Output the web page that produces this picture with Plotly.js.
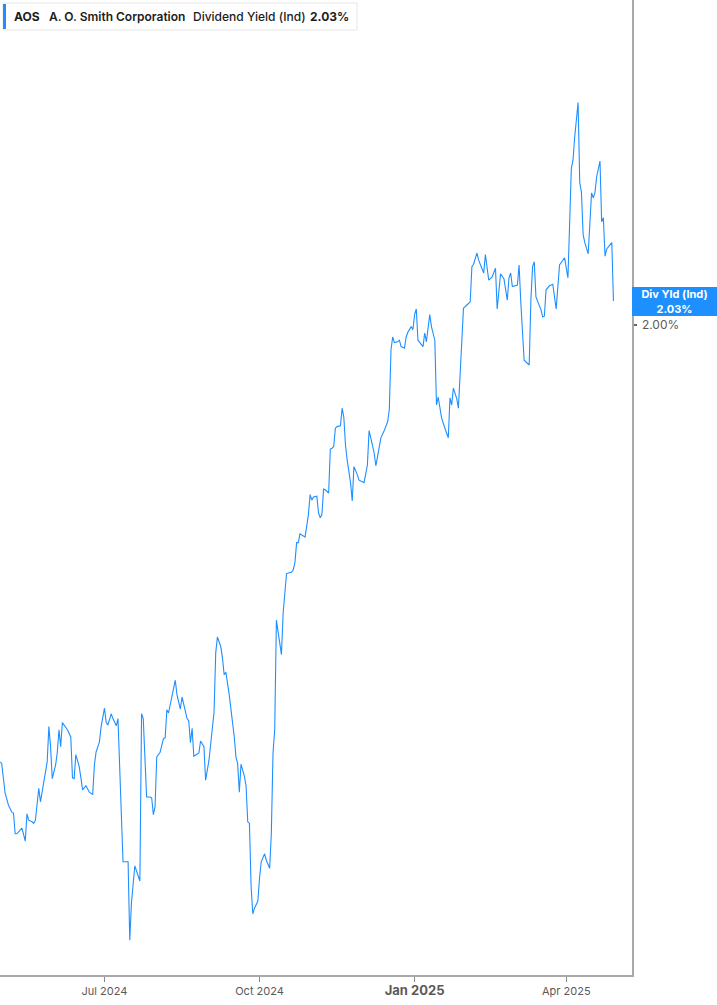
<!DOCTYPE html>
<html>
<head>
<meta charset="utf-8">
<script src="https://cdn.plot.ly/plotly-3.0.1.min.js"></script>
<style>
  html, body { margin: 0; padding: 0; background: #ffffff; }
  #chart { width: 717px; height: 1005px; }
</style>
</head>
<body>
<div id="chart"></div>
<script>
const TICKER = "AOS";
const COMPANY = "A. O. Smith Corporation";
const METRIC = "Dividend Yield (Ind)";
const LAST_VALUE = "2.03%";

const LINE_COLOR = "#1e8fff";

// dates and indicated dividend yield (%)
const dates = [
  "2024-04-30", "2024-05-01", "2024-05-03", "2024-05-05", "2024-05-07", "2024-05-08", "2024-05-09", "2024-05-10",
  "2024-05-13", "2024-05-15", "2024-05-16", "2024-05-17", "2024-05-19", "2024-05-20", "2024-05-21", "2024-05-23",
  "2024-05-24", "2024-05-26", "2024-05-28", "2024-05-29", "2024-05-30", "2024-05-31",
  "2024-06-02", "2024-06-03", "2024-06-04", "2024-06-05", "2024-06-06", "2024-06-09", "2024-06-11", "2024-06-12",
  "2024-06-13", "2024-06-14", "2024-06-16", "2024-06-17", "2024-06-18", "2024-06-20", "2024-06-22", "2024-06-24",
  "2024-06-25", "2024-06-26", "2024-06-28", "2024-06-29",
  "2024-07-01", "2024-07-02", "2024-07-03", "2024-07-05", "2024-07-06", "2024-07-08", "2024-07-09", "2024-07-10",
  "2024-07-12", "2024-07-13", "2024-07-15", "2024-07-16", "2024-07-17", "2024-07-19", "2024-07-21", "2024-07-22",
  "2024-07-23", "2024-07-24", "2024-07-26", "2024-07-28", "2024-07-29", "2024-07-30", "2024-07-31",
  "2024-08-01", "2024-08-03", "2024-08-05", "2024-08-06", "2024-08-07", "2024-08-08", "2024-08-10", "2024-08-12",
  "2024-08-13", "2024-08-15", "2024-08-16", "2024-08-18", "2024-08-19", "2024-08-20", "2024-08-21", "2024-08-22",
  "2024-08-23", "2024-08-26", "2024-08-27", "2024-08-29", "2024-08-30",
  "2024-09-01", "2024-09-03", "2024-09-04", "2024-09-05", "2024-09-06", "2024-09-08", "2024-09-09", "2024-09-10",
  "2024-09-11", "2024-09-13", "2024-09-15", "2024-09-16", "2024-09-17", "2024-09-18", "2024-09-19", "2024-09-20",
  "2024-09-22", "2024-09-23", "2024-09-24", "2024-09-25", "2024-09-26", "2024-09-27", "2024-09-28", "2024-09-30",
  "2024-10-01", "2024-10-02", "2024-10-04", "2024-10-05", "2024-10-07", "2024-10-08", "2024-10-09", "2024-10-10",
  "2024-10-11", "2024-10-12", "2024-10-14", "2024-10-15", "2024-10-16", "2024-10-17", "2024-10-18", "2024-10-20",
  "2024-10-21", "2024-10-22", "2024-10-23", "2024-10-24", "2024-10-25", "2024-10-27", "2024-10-28", "2024-10-30",
  "2024-10-31",
  "2024-11-01", "2024-11-02", "2024-11-04", "2024-11-05", "2024-11-06", "2024-11-07", "2024-11-08", "2024-11-09",
  "2024-11-11", "2024-11-12", "2024-11-13", "2024-11-14", "2024-11-15", "2024-11-16", "2024-11-18", "2024-11-19",
  "2024-11-20", "2024-11-21", "2024-11-22", "2024-11-24", "2024-11-25", "2024-11-26", "2024-11-28", "2024-11-29",
  "2024-12-01", "2024-12-02", "2024-12-04", "2024-12-05", "2024-12-06", "2024-12-08", "2024-12-09", "2024-12-11",
  "2024-12-12", "2024-12-14", "2024-12-16", "2024-12-17", "2024-12-18", "2024-12-19", "2024-12-20", "2024-12-22",
  "2024-12-23", "2024-12-24", "2024-12-26", "2024-12-27", "2024-12-28", "2024-12-30", "2024-12-31",
  "2025-01-01", "2025-01-02", "2025-01-03", "2025-01-04", "2025-01-06", "2025-01-07", "2025-01-08", "2025-01-10",
  "2025-01-11", "2025-01-13", "2025-01-14", "2025-01-15", "2025-01-16", "2025-01-17", "2025-01-19", "2025-01-21",
  "2025-01-22", "2025-01-23", "2025-01-24", "2025-01-26", "2025-01-27", "2025-01-28", "2025-01-29", "2025-01-30",
  "2025-02-01", "2025-02-03", "2025-02-04", "2025-02-05", "2025-02-07", "2025-02-08", "2025-02-11", "2025-02-12",
  "2025-02-14", "2025-02-16", "2025-02-18", "2025-02-19", "2025-02-21", "2025-02-23", "2025-02-25", "2025-02-26",
  "2025-02-27", "2025-02-28",
  "2025-03-03", "2025-03-04", "2025-03-05", "2025-03-07", "2025-03-10", "2025-03-11", "2025-03-12", "2025-03-13",
  "2025-03-14", "2025-03-17", "2025-03-18", "2025-03-19", "2025-03-20", "2025-03-22", "2025-03-24", "2025-03-26",
  "2025-03-28", "2025-03-30", "2025-03-31",
  "2025-04-02", "2025-04-04", "2025-04-05", "2025-04-06", "2025-04-08", "2025-04-09", "2025-04-10", "2025-04-11",
  "2025-04-12", "2025-04-14", "2025-04-16", "2025-04-17", "2025-04-18", "2025-04-19", "2025-04-21", "2025-04-22",
  "2025-04-23", "2025-04-24", "2025-04-25", "2025-04-28", "2025-04-29",
];

const yields = [
  1.454, 1.452, 1.415, 1.400, 1.391, 1.390, 1.364, 1.364,
  1.371, 1.355, 1.389, 1.381, 1.379, 1.377, 1.381, 1.421,
  1.404, 1.428, 1.454, 1.498, 1.473, 1.433,
  1.450, 1.466, 1.494, 1.473, 1.503, 1.494, 1.485, 1.434,
  1.433, 1.463, 1.448, 1.434, 1.419, 1.424, 1.416, 1.413,
  1.450, 1.466, 1.479, 1.498,
  1.521, 1.503, 1.500, 1.514, 1.508, 1.499, 1.508, 1.448,
  1.329, 1.329, 1.329, 1.231, 1.278, 1.324, 1.313, 1.305,
  1.514, 1.508, 1.410, 1.410, 1.409, 1.388, 1.398,
  1.460, 1.466, 1.483, 1.484, 1.519, 1.515, 1.535, 1.556,
  1.538, 1.520, 1.535, 1.519, 1.508, 1.505, 1.478, 1.496,
  1.461, 1.465, 1.480, 1.473, 1.431,
  1.456, 1.498, 1.516, 1.590, 1.610, 1.598, 1.584, 1.563,
  1.566, 1.538, 1.506, 1.485, 1.460, 1.452, 1.416, 1.451,
  1.436, 1.424, 1.379, 1.377, 1.298, 1.264, 1.271, 1.280,
  1.309, 1.329, 1.339, 1.331, 1.321, 1.365, 1.465, 1.494,
  1.631, 1.615, 1.588, 1.640, 1.660, 1.689, 1.690, 1.691,
  1.694, 1.703, 1.728, 1.728, 1.739, 1.736, 1.735, 1.763,
  1.788,
  1.781, 1.785, 1.786, 1.765, 1.759, 1.763, 1.795, 1.794,
  1.790, 1.845, 1.846, 1.848, 1.871, 1.873, 1.874, 1.896,
  1.885, 1.850, 1.831, 1.803, 1.780, 1.823, 1.813, 1.806,
  1.804, 1.803, 1.825, 1.868, 1.859, 1.840, 1.824, 1.850,
  1.859, 1.868, 1.879, 1.894, 1.969, 1.985, 1.978, 1.979,
  1.981, 1.973, 1.971, 1.985, 1.991, 1.998, 1.994,
  2.013, 2.020, 1.981, 1.978, 1.973, 1.990, 1.979, 2.013,
  1.998, 1.981, 1.900, 1.910, 1.894, 1.884, 1.871, 1.859,
  1.909, 1.900, 1.921, 1.908, 1.896, 1.941, 1.969, 2.021,
  2.025, 2.029, 2.073, 2.076, 2.090, 2.081, 2.065, 2.088,
  2.056, 2.060, 2.071, 2.020, 2.064, 2.058, 2.031, 2.059,
  2.065, 2.048,
  2.050, 2.075, 2.029, 1.956, 1.950, 2.031, 2.073, 2.079,
  2.035, 2.019, 2.010, 2.011, 2.044, 2.049, 2.051, 2.020,
  2.075, 2.081, 2.084,
  2.059, 2.196, 2.206, 2.235, 2.278, 2.178, 2.166, 2.113,
  2.103, 2.089, 2.165, 2.159, 2.165, 2.185, 2.205, 2.129,
  2.134, 2.086, 2.095, 2.103, 2.030,
];

const xTickVals = ["2024-07-01", "2024-10-01", "2025-01-01", "2025-04-01"];
const xTickText = ["Jul 2024", "Oct 2024", "<b style=\"font-size:13px\">Jan 2025</b>", "Apr 2025"];
const yTickVals = [2.0];
const yTickText = ["2.00%"];

const AXIS_GREY = "#a9a9a9";
const TEXT_GREY = "#5a5a5a";

function headerPart(text, shift, weight) {
  return {
    xref: "paper", yref: "paper", x: 0, y: 1,
    xanchor: "left", yanchor: "middle",
    xshift: shift, yshift: -16.5,
    showarrow: false,
    text: text,
    font: { family: "Inter, sans-serif", size: 12, weight: weight, color: "#1c1c1c" },
  };
}

function drawChart(container) {
  const data = [
    {
      type: "scatter",
      mode: "lines",
      x: dates,
      y: yields,
      line: { color: LINE_COLOR, width: 1.1 },
      hoverinfo: "skip",
    },
  ];

  const layout = {
    width: 717,
    height: 1005,
    margin: { l: 0, r: 85, t: 0, b: 30 },
    paper_bgcolor: "#ffffff",
    plot_bgcolor: "#ffffff",
    showlegend: false,
    font: { family: "Inter, sans-serif", color: TEXT_GREY },
    xaxis: {
      type: "date",
      range: ["2024-04-30", "2025-05-10"],
      tickvals: xTickVals,
      ticktext: xTickText,
      ticks: "outside",
      ticklen: 5,
      tickwidth: 1,
      tickcolor: "#888888",
      tickfont: { family: "Inter, sans-serif", size: 11, color: TEXT_GREY },
      showline: true,
      linecolor: AXIS_GREY,
      linewidth: 1.5,
      showgrid: false,
      zeroline: false,
      fixedrange: true,
    },
    yaxis: {
      side: "right",
      range: [1.1875, 2.40625],
      tickvals: yTickVals,
      ticktext: yTickText,
      ticks: "outside",
      ticklen: 3,
      tickwidth: 1.5,
      tickcolor: "#666666",
      ticklabelstandoff: 3,
      tickfont: { family: "Inter, sans-serif", size: 12, color: TEXT_GREY },
      showline: true,
      linecolor: AXIS_GREY,
      linewidth: 1.5,
      showgrid: false,
      zeroline: false,
      fixedrange: true,
    },
    shapes: [
      {
        type: "rect", xref: "paper", yref: "paper",
        xsizemode: "pixel", ysizemode: "pixel", xanchor: 0, yanchor: 1,
        x0: 3, x1: 357, y0: -3, y1: -30,
        line: { color: "#e6e6e6", width: 1 },
        fillcolor: "#ffffff",
        layer: "above",
      },
      {
        type: "rect", xref: "paper", yref: "paper",
        xsizemode: "pixel", ysizemode: "pixel", xanchor: 0, yanchor: 1,
        x0: 3, x1: 6, y0: -4, y1: -29,
        line: { width: 0 },
        fillcolor: LINE_COLOR,
        layer: "above",
      },
    ],
    annotations: [
      headerPart(TICKER, 12, 700),
      headerPart(COMPANY, 47, 600),
      headerPart(METRIC, 191, 500),
      headerPart(LAST_VALUE, 308, 700),
      {
        xref: "paper", yref: "y",
        x: 1, y: yields[yields.length - 1],
        xanchor: "left", yanchor: "middle",
        xshift: 0,
        showarrow: false,
        width: 81, height: 25, borderpad: 2, borderwidth: 0,
        bgcolor: LINE_COLOR,
        align: "center",
        text: "<b>Div Yld (Ind)</b><br><b>" + LAST_VALUE + "</b>",
        font: { family: "Inter, sans-serif", size: 11, color: "#ffffff" },
      },
    ],
  };

  Plotly.newPlot(container, data, layout, { displayModeBar: false, staticPlot: true });
}

drawChart(document.getElementById("chart"));
</script>
</body>
</html>
